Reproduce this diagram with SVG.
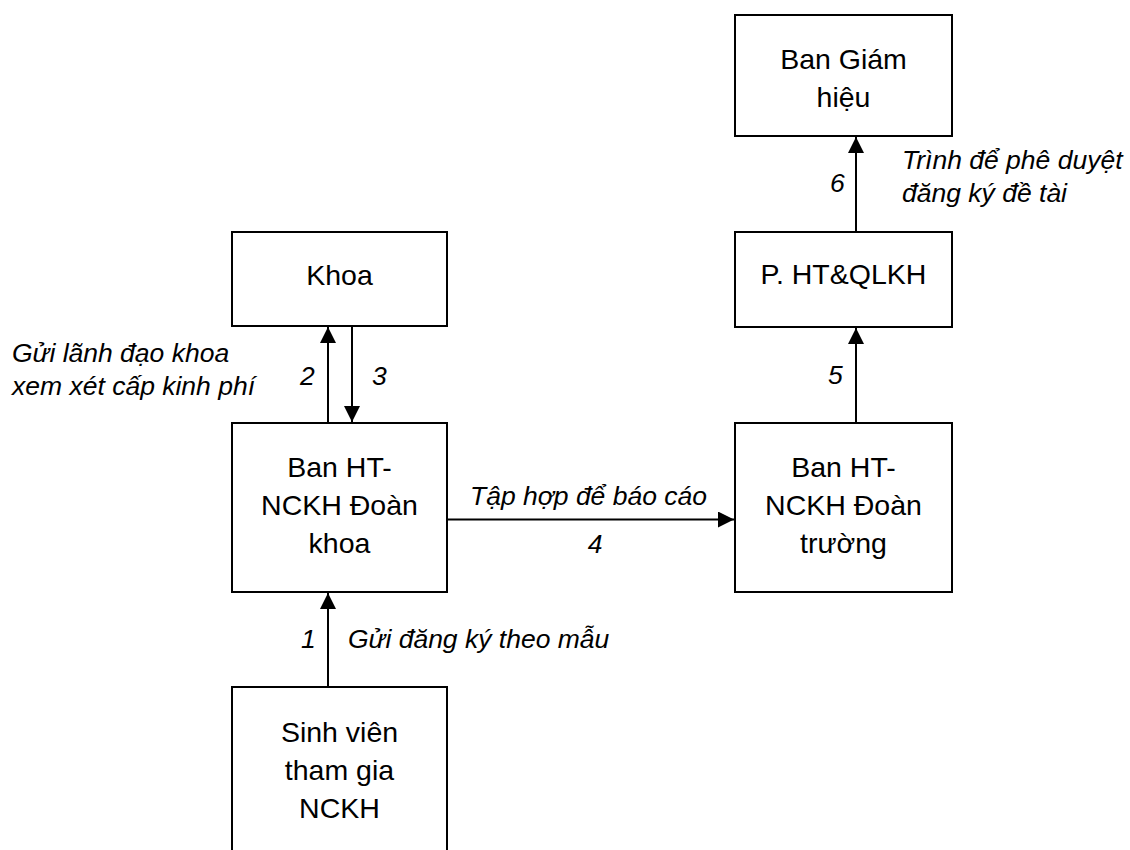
<svg xmlns="http://www.w3.org/2000/svg" width="1130" height="850" viewBox="0 0 1130 850">
<style>
.box{fill:#fff;stroke:#000;stroke-width:2}
.bt{font-family:"Liberation Sans",Arial,sans-serif;font-size:28.5px;fill:#000;text-anchor:middle}
.lb{font-family:"Liberation Sans",Arial,sans-serif;font-size:26.5px;font-style:italic;fill:#000}
.cn{stroke:#000;stroke-width:2;fill:none;marker-end:url(#ah)}
</style>
<defs>
<marker id="ah" markerUnits="userSpaceOnUse" markerWidth="16" markerHeight="16" refX="16" refY="8" orient="auto" viewBox="0 0 16 16">
<path d="M0,0 L16,8 L0,16 Z" fill="#000"/>
</marker>
</defs>
<rect width="1130" height="850" fill="#fff"/>
<g id="khoa">
<rect class="box" x="232" y="232" width="215" height="94"/>
<text class="bt" x="339.5" y="285">Khoa</text>
</g>
<g id="ban-khoa">
<rect class="box" x="232" y="423" width="215" height="169"/>
<text class="bt" x="339.5" y="477">Ban HT-</text>
<text class="bt" x="339.5" y="515">NCKH Đoàn</text>
<text class="bt" x="339.5" y="553">khoa</text>
</g>
<g id="sinh-vien">
<rect class="box" x="232" y="687" width="215" height="200"/>
<text class="bt" x="339.5" y="742">Sinh viên</text>
<text class="bt" x="339.5" y="780">tham gia</text>
<text class="bt" x="339.5" y="818">NCKH</text>
</g>
<g id="bgh">
<rect class="box" x="735" y="15" width="217" height="121"/>
<text class="bt" x="843.5" y="69">Ban Giám</text>
<text class="bt" x="843.5" y="107">hiệu</text>
</g>
<g id="phong">
<rect class="box" x="735" y="232" width="217" height="95"/>
<text class="bt" x="843.5" y="284">P. HT&amp;QLKH</text>
</g>
<g id="ban-truong">
<rect class="box" x="735" y="423" width="217" height="169"/>
<text class="bt" x="843.5" y="477">Ban HT-</text>
<text class="bt" x="843.5" y="515">NCKH Đoàn</text>
<text class="bt" x="843.5" y="553">trường</text>
</g>
<g id="connectors">
<line class="cn" x1="328" y1="687" x2="328" y2="593"/>
<line class="cn" x1="328" y1="423" x2="328" y2="327"/>
<line class="cn" x1="352" y1="326" x2="352" y2="422"/>
<line class="cn" x1="447" y1="519.5" x2="734" y2="519.5"/>
<line class="cn" x1="856" y1="423" x2="856" y2="328"/>
<line class="cn" x1="856" y1="232" x2="856" y2="137"/>
</g>
<g id="labels">
<text class="lb" x="12" y="362">Gửi lãnh đạo khoa</text>
<text class="lb" x="12" y="395">xem xét cấp kinh phí</text>
<text class="lb" x="300" y="385">2</text>
<text class="lb" x="372" y="385">3</text>
<text class="lb" x="470" y="505">Tập hợp để báo cáo</text>
<text class="lb" x="595" y="553" text-anchor="middle">4</text>
<text class="lb" x="301" y="648">1</text>
<text class="lb" x="348" y="648">Gửi đăng ký theo mẫu</text>
<text class="lb" x="828" y="384">5</text>
<text class="lb" x="830" y="192">6</text>
<text class="lb" x="902" y="169">Trình để phê duyệt</text>
<text class="lb" x="902" y="202">đăng ký đề tài</text>
</g>
</svg>
